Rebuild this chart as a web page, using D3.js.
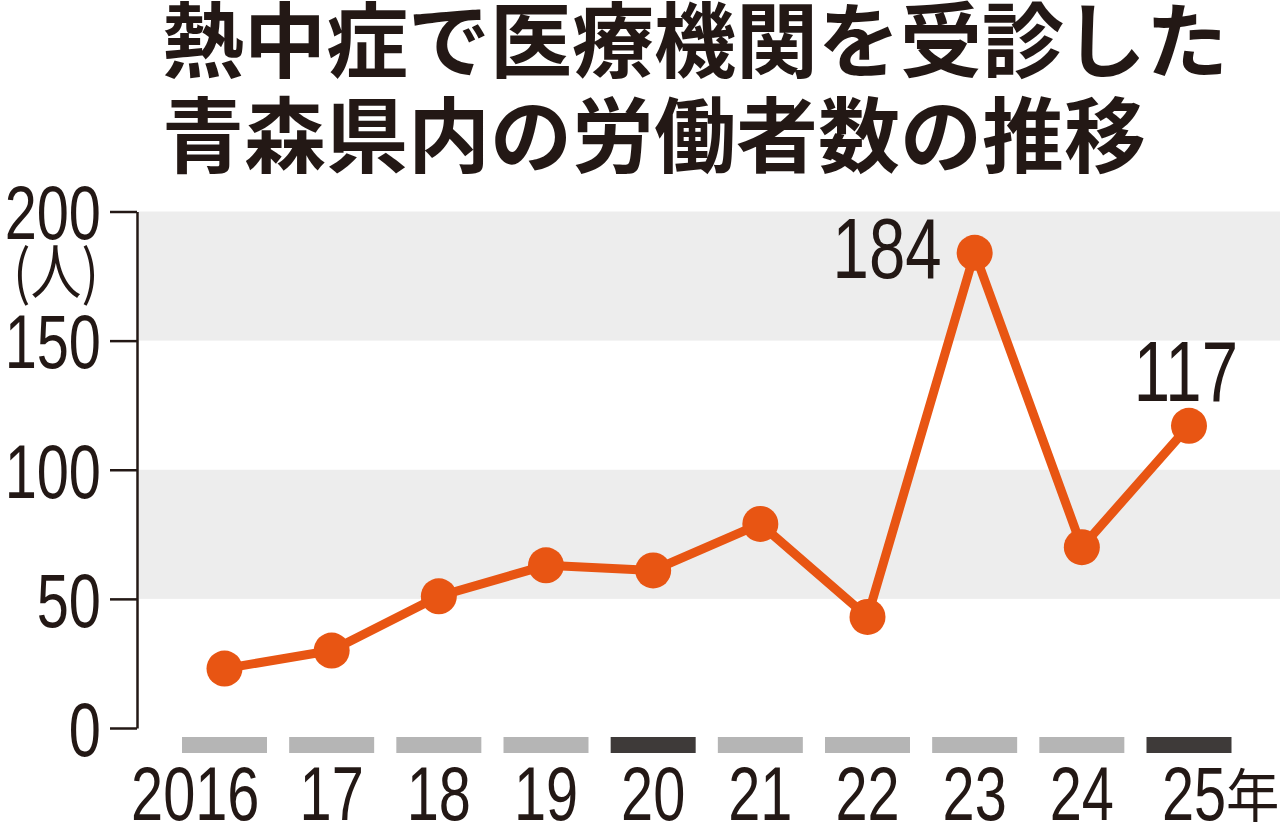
<!DOCTYPE html>
<html>
<head>
<meta charset="utf-8">
<script src="https://cdn.jsdelivr.net/npm/d3@7"></script>
<style>
  body { margin: 0; background: #fff; }
  svg { display: block; }
</style>
</head>
<body>
<script>
var w = 1280;
var h = 822;

// data
var years = ["2016", "17", "18", "19", "20", "21", "22", "23", "24", "25"];
var workers = [23, 30, 51, 63, 61, 79, 43, 184, 70, 117];
var darkYears = ["20", "25"];          // era-change markers under the axis
var yTicks = [0, 50, 100, 150, 200];
var bands = [[50, 100], [150, 200]];   // grey stripes
var labelled = ["23", "25"];           // points with value labels

var ink = "#231815";
var orange = "#e85513";
var numFont = "'Liberation Sans', Arial, sans-serif";
var squeeze = 0.76;   // the numerals in the print are condensed

var svg = d3.select("body").append("svg")
    .attr("width", w)
    .attr("height", h);

// title
var title = svg.append("text")
    .attr("font-family", "'Noto Sans CJK JP', sans-serif")
    .attr("font-weight", 700)
    .attr("font-size", 82)
    .attr("fill", ink);
title.append("tspan").attr("x", 162).attr("y", 71).text("熱中症で医療機関を受診した");
title.append("tspan").attr("x", 162).attr("y", 166).text("青森県内の労働者数の推移");

var xScale = d3.scalePoint()
    .domain(years)
    .range([224.5, 1189]);

var yScale = d3.scaleLinear()
    .domain([0, 200])
    .range([728, 211.5]);

// stripes
svg.selectAll("rect.band")
    .data(bands)
    .enter()
    .append("rect")
    .attr("class", "band")
    .attr("x", 139)
    .attr("width", w - 139)
    .attr("y", function(d){ return yScale(d[1]); })
    .attr("height", function(d){ return yScale(d[0]) - yScale(d[1]); })
    .attr("fill", "#ededed");

// y axis
var yAxis = d3.axisLeft(yScale)
    .tickValues(yTicks)
    .tickSize(27)
    .tickSizeOuter(0)
    .tickPadding(9);

var gy = svg.append("g")
    .attr("transform", "translate(137,0)")
    .call(yAxis);
gy.select(".domain").attr("stroke", ink).attr("stroke-width", 2.5);
gy.selectAll(".tick line").attr("stroke", ink).attr("stroke-width", 2.5);
gy.selectAll(".tick text")
    .attr("x", 0)
    .attr("transform", "translate(-36,0) scale(" + squeeze + ",1)")
    .attr("font-family", numFont)
    .attr("font-size", 76)
    .attr("fill", ink)
    .attr("dy", "0.36em");

svg.append("text")
    .attr("transform", "translate(56,294) scale(0.85,1)")
    .attr("text-anchor", "middle")
    .attr("font-family", "'Noto Sans CJK JP', sans-serif")
    .attr("font-size", 60)
    .attr("fill", ink)
    .text("(人)");

// markers under axis
var barW = 85;
svg.selectAll("rect.mark")
    .data(years)
    .enter()
    .append("rect")
    .attr("class", "mark")
    .attr("x", function(d){ return xScale(d) - barW / 2; })
    .attr("y", 737)
    .attr("width", barW)
    .attr("height", 16)
    .attr("fill", function(d){ return darkYears.indexOf(d) >= 0 ? "#3e3a39" : "#b5b5b5"; });

// x labels: the two-digit part sits on the marker, "20" of 2016 hangs left
svg.selectAll("text.xl")
    .data(years)
    .enter()
    .append("text")
    .attr("class", "xl")
    .attr("transform", function(d){
        var x = xScale(d);
        if (d.length === 4) x += 35;
        if (d === "25") x += 5;
        return "translate(" + x + ",820) scale(" + squeeze + ",1)";
    })
    .attr("text-anchor", function(d){ return d.length === 4 ? "end" : "middle"; })
    .attr("font-family", numFont)
    .attr("font-size", 76)
    .attr("fill", ink)
    .text(function(d){ return d; });

// last label gets the 年 suffix hanging off the right
svg.append("text")
    .attr("transform", "translate(" + (xScale("25") + 37) + ",817) scale(0.92,1)")
    .attr("font-family", "'Noto Sans CJK JP', sans-serif")
    .attr("font-size", 58)
    .attr("fill", ink)
    .text("年");

// line + dots
var pts = years.map(function(d, i){ return { year: d, value: workers[i] }; });

var line = d3.line()
    .x(function(d){ return xScale(d.year); })
    .y(function(d){ return yScale(d.value); });

svg.append("path")
    .datum(pts)
    .attr("d", line)
    .attr("fill", "none")
    .attr("stroke", orange)
    .attr("stroke-width", 9)
    .attr("stroke-linejoin", "round");

svg.selectAll("circle")
    .data(pts)
    .enter()
    .append("circle")
    .attr("cx", function(d){ return xScale(d.year); })
    .attr("cy", function(d){ return yScale(d.value); })
    .attr("r", 18)
    .attr("fill", orange);

// value labels
svg.selectAll("text.val")
    .data(pts.filter(function(d){ return labelled.indexOf(d.year) >= 0; }))
    .enter()
    .append("text")
    .attr("class", "val")
    .attr("transform", function(d){
        var x = xScale(d.year) + (d.year === "23" ? -33 : 49);
        var y = yScale(d.value) + (d.year === "23" ? 25 : -25);
        return "translate(" + x + "," + y + ") scale(" + squeeze + ",1)";
    })
    .attr("text-anchor", "end")
    .attr("font-family", numFont)
    .attr("font-size", 86)
    .attr("fill", ink)
    .text(function(d){ return d.value; });
</script>
</body>
</html>
